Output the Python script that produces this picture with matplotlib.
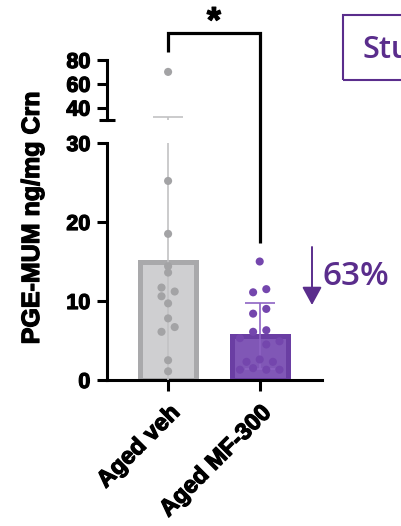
import numpy as np
import matplotlib
matplotlib.use("Agg")
import matplotlib.pyplot as plt
import matplotlib.patheffects as pe
from matplotlib.patches import Rectangle
from matplotlib.lines import Line2D

# ---------------- data ----------------
groups = ["Aged veh", "Aged MF-300"]
veh_values = [70, 25.2, 18.5, 14.4, 13.6, 11.7, 11.2, 10.6, 9.7, 7.8, 6.7, 6.1, 2.5, 1.1]
veh_slots = [0, 0, 0, 0, 0, -1, 1, -1, 0, 0, 1, -1, 0, 0]
mf_values = [15.0, 11.1, 11.5, 9.0, 8.4, 6.1, 6.3, 5.3, 4.5, 4.9, 2.3, 2.6, 2.3, 1.3, 1.5, 1.3, 1.3]
mf_slots = [0, -1, 1, 1, -1, -1, 1, -3, 1, 3, -2, 0, 2, -3, -1, 1, 3]
low_ticks = [0, 10, 20, 30]
high_ticks = [40, 60, 80]
reduction_label = "63%"
sig_label = "*"
ylabel = "PGE-MUM ng/mg Crn"
box_label = "Stu"

# ---------------- styles ----------------
W, H = 402, 526
DPI = 100
gray_fill, gray_edge, gray_dot, gray_err = "#cfcfd1", "#a9a9ab", "#a3a3a5", "#c2c2c4"
pur_fill, pur_edge, pur_dot, pur_err = "#8057b6", "#6a3ea3", "#7446ad", "#8d63c3"
text_purple = "#5a2d8c"
BF = "Liberation Sans"
heavy = [pe.withStroke(linewidth=0.9, foreground="black")]

fig = plt.figure(figsize=(W / DPI, H / DPI), dpi=DPI)

def px_rect(x0, x1, ytop, ybot):
    return [x0 / W, 1 - ybot / H, (x1 - x0) / W, (ybot - ytop) / H]

ax_bot = fig.add_axes(px_rect(107, 322, 143, 380))
ax_top = fig.add_axes(px_rect(107, 322, 60, 119.5), sharex=ax_bot)

xlim = (-0.667, 1.68)
ax_bot.set_xlim(*xlim)
ax_bot.set_ylim(0, 30)
ax_top.set_ylim(30, 80)

spine_lw = 2.2
x = np.arange(len(groups))
slot_w = 0.072
bar_w = 0.61

all_vals = [np.array(veh_values), np.array(mf_values)]
all_slots = [np.array(veh_slots), np.array(mf_slots)]
fills = [gray_fill, pur_fill]
edges = [gray_edge, pur_edge]
dots = [gray_dot, pur_dot]
errs = [gray_err, pur_err]

for ax in (ax_bot, ax_top):
    for i, vals in enumerate(all_vals):
        m = vals.mean()
        sd = vals.std(ddof=1)
        ax.bar(x[i], m, width=bar_w, color=fills[i], edgecolor=edges[i],
               linewidth=3.6, zorder=2)
        ax.errorbar(x[i], m, yerr=sd, fmt="none", ecolor=errs[i],
                    elinewidth=1.2, capsize=10.5, capthick=1.2, zorder=3)
        ax.scatter(x[i] + all_slots[i] * slot_w, vals, s=34, color=dots[i],
                   edgecolors="none", zorder=4)
    for s in ("top", "right"):
        ax.spines[s].set_visible(False)
    ax.spines["left"].set_linewidth(spine_lw)
    ax.tick_params(axis="y", which="major", direction="out", length=7,
                   width=spine_lw, pad=5)
    ax.tick_params(axis="y", which="minor", direction="inout", length=11,
                   width=spine_lw)

ax_bot.set_yticks(low_ticks)
ax_bot.set_yticklabels([str(t) for t in low_ticks], fontsize=15.5,
                       fontweight="bold", family=BF)
ax_bot.set_yticks([30], minor=True)
ax_top.set_yticks(high_ticks)
ax_top.set_yticklabels([str(t) for t in high_ticks], fontsize=15.5,
                       fontweight="bold", family=BF)
ax_top.set_yticks([30], minor=True)

ax_top.spines["bottom"].set_visible(False)
ax_top.tick_params(axis="x", which="both", bottom=False, labelbottom=False)

ax_bot.spines["bottom"].set_linewidth(spine_lw)
ax_bot.set_xticks(x)
ax_bot.set_xticklabels(groups, rotation=45, ha="right", rotation_mode="anchor",
                       fontsize=17, fontweight="bold", family=BF)
ax_bot.tick_params(axis="x", direction="out", length=8, width=spine_lw, pad=7)

for lab in ax_bot.get_yticklabels() + ax_top.get_yticklabels() + ax_bot.get_xticklabels():
    lab.set_path_effects(heavy)

# y label
fig.text(32 / W, 1 - 218 / H, ylabel, rotation=90, ha="center", va="center",
         fontsize=18, fontweight="bold", family=BF, path_effects=heavy)

# significance bracket (spans both axes)
to_fig = fig.transFigure.inverted()
p = [ax_top.transData.transform((x[0], 86.7)),
     ax_top.transData.transform((x[0], 102.8)),
     ax_top.transData.transform((x[1], 102.8)),
     ax_bot.transData.transform((x[1], 17.4))]
p = to_fig.transform(np.array(p))
fig.add_artist(Line2D(p[:, 0], p[:, 1], color="black", lw=2.3,
                      solid_joinstyle="miter", solid_capstyle="butt"))
mid = to_fig.transform(ax_top.transData.transform((0.5 * (x[0] + x[1]), 102.8)))
fig.text(mid[0], 1 - 32 / H, sig_label, ha="center", va="baseline",
         fontsize=26, fontweight="bold", family=BF, path_effects=heavy)

# reduction arrow and label
fig.add_artist(plt.Annotation("", xy=(312 / W, 1 - 305 / H), xytext=(312 / W, 1 - 247 / H),
                              xycoords="figure fraction", textcoords="figure fraction",
                              arrowprops=dict(arrowstyle="-|>,head_length=0.55,head_width=0.3",
                                              color=text_purple, lw=1.4, mutation_scale=20,
                                              shrinkA=0, shrinkB=0)))
fig.text(323 / W, 1 - 285 / H, reduction_label, ha="left", va="baseline",
         fontsize=24, color=text_purple, family="Open Sans",
         fontweight="semibold")

# "Study" box, cut by the right edge
fig.add_artist(Rectangle((343 / W, 1 - 80 / H), 120 / W, 65 / H,
                         transform=fig.transFigure, fill=False,
                         edgecolor=text_purple, lw=1.5))
fig.text(363 / W, 1 - 58 / H, box_label, ha="left", va="baseline",
         fontsize=22, color=text_purple, family="Open Sans",
         fontweight="semibold")

fig.savefig("out.png", dpi=DPI)
